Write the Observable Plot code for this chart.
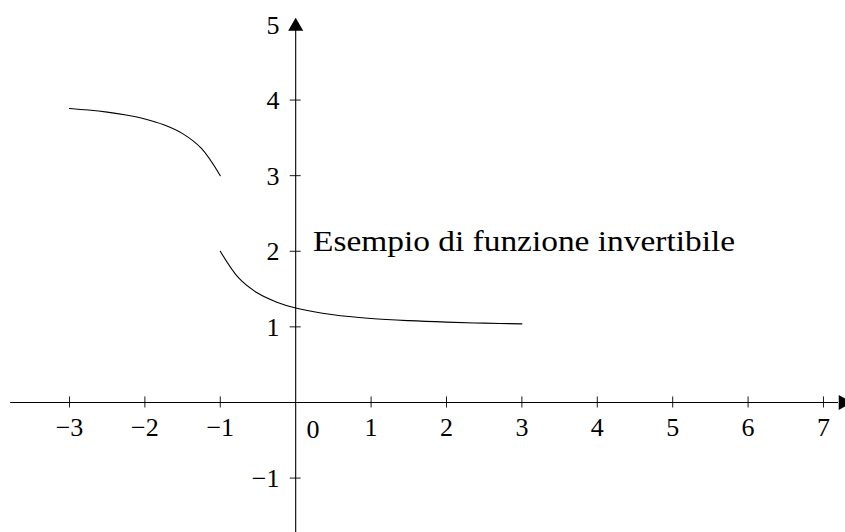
<!DOCTYPE html>
<html>
<head>
<meta charset="utf-8">
<script src="https://cdn.jsdelivr.net/npm/d3@7"></script>
<script src="https://cdn.jsdelivr.net/npm/@observablehq/plot@0.6"></script>
<style>
  html, body { margin: 0; padding: 0; background: white; }
  #chart svg { display: block; }
  #chart svg text { font-family: "Liberation Serif", "Times New Roman", serif; }
  #chart svg .tick-label text { font-size: 26px; }
  #chart svg .title-text text { font-size: 30px; }
</style>
</head>
<body>
<div id="chart"></div>
<script>
// Left branch (x from -3 to -1)
const leftX = [-3, -2.75, -2.5, -2.25, -2, -1.75, -1.5, -1.25, -1];
const leftY = [3.889, 3.868, 3.84, 3.802, 3.75, 3.673, 3.556, 3.36, 3.0];
// Right branch (x from -1 to 3)
const rightX = [-1, -0.75, -0.5, -0.25, 0, 0.5, 1, 1.5, 2, 2.5, 3];
const rightY = [2.0, 1.64, 1.444, 1.327, 1.25, 1.16, 1.111, 1.082, 1.0625, 1.049, 1.04];

const xTicks = [-3, -2, -1, 1, 2, 3, 4, 5, 6, 7];
const xTickLabels = ["−3", "−2", "−1", "1", "2", "3", "4", "5", "6", "7"];
const yTicks = [-1, 1, 2, 3, 4];
const yTickLabels = ["−1", "1", "2", "3", "4", "5"];
const yLabelValues = [-1, 1, 2, 3, 4, 5];
const originLabel = ["0"];
const titleText = ["Esempio di funzione invertibile"];

const left = leftX.map((x, i) => ({x, y: leftY[i]}));
const right = rightX.map((x, i) => ({x, y: rightY[i]}));

const chart = Plot.plot({
  width: 845,
  height: 532,
  margin: 0,
  x: {domain: [-3.915, 7.292], axis: null},
  y: {domain: [-1.72, 5.317], axis: null},
  style: {background: "white"},
  marks: [
    // axes
    Plot.ruleY([0], {x1: -3.78, x2: 7.2, stroke: "black", strokeWidth: 1.1}),
    Plot.ruleX([0], {y1: -1.72, y2: 5.0, stroke: "black", strokeWidth: 1.1}),
    // arrowheads
    Plot.dot([{x: 0, y: 4.975}], {x: "x", y: "y", symbol: "triangle", r: 5.6, fill: "black", stroke: null}),
    Plot.dot([{x: 7.26, y: 0}], {x: "x", y: "y", symbol: "triangle", r: 5.6, rotate: 90, fill: "black", stroke: null}),
    // ticks
    Plot.ruleX(xTicks, {x: d => d, y1: -0.073, y2: 0.073, stroke: "black", strokeWidth: 0.9}),
    Plot.ruleY(yTicks, {y: d => d, x1: -0.073, x2: 0.073, stroke: "black", strokeWidth: 0.9}),
    // tick labels
    Plot.text(xTicks, {x: d => d, y: -0.335, text: (d, i) => xTickLabels[i], fill: "black", className: "tick-label"}),
    Plot.text(yLabelValues, {x: -0.215, y: d => d - 0.01, text: (d, i) => yTickLabels[i], textAnchor: "end", fill: "black", className: "tick-label"}),
    Plot.text(originLabel, {x: 0.23, y: -0.36, text: d => d, fill: "black", className: "tick-label"}),
    // curves
    Plot.line(left, {x: "x", y: "y", curve: "catmull-rom", stroke: "black", strokeWidth: 1.1}),
    Plot.line(right, {x: "x", y: "y", curve: "catmull-rom", stroke: "black", strokeWidth: 1.1}),
    // annotation
    Plot.text(titleText, {x: 0.23, y: 2.137, text: d => d, textAnchor: "start", fill: "black", className: "title-text"})
  ]
});

document.getElementById("chart").appendChild(chart);
// stretch annotation to the reference width
chart.querySelectorAll(".title-text text").forEach(t => {
  t.setAttribute("textLength", 422);
  t.setAttribute("lengthAdjust", "spacingAndGlyphs");
});
</script>
</body>
</html>
